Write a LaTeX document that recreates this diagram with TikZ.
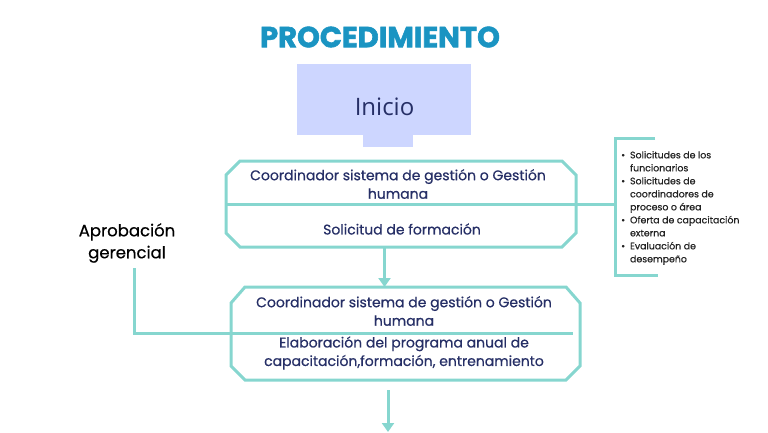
\documentclass[tikz,border=0pt]{standalone}
\usepackage{fontspec}
\setmainfont{Poppins}
\newfontfamily\opensans{Open Sans}
\newfontfamily\popmed[FakeBold=0.6]{Poppins}
\newfontfamily\popheavy[FakeBold=2]{Poppins}
\usetikzlibrary{arrows.meta}
\definecolor{tealline}{HTML}{86D6CF}
\definecolor{navy}{HTML}{262F66}
\definecolor{titleblue}{HTML}{1A94C2}
\definecolor{inifill}{HTML}{CDD6FF}
\definecolor{bullettext}{HTML}{222222}
\begin{document}
\begin{tikzpicture}[x=1pt,y=-1pt,
  boxarea/.style={inner sep=0pt, outer sep=0pt, draw=none},
  boxline/.style={draw=tealline, line width=3pt, line join=miter},
  tline/.style={draw=tealline, line width=3pt},
  arr/.style={draw=tealline, line width=3pt, -{Triangle[width=12pt,length=9pt]}},
  boxtext/.style={text=navy, align=center, inner sep=0pt, font=\popmed\fontsize{14}{18.5}\selectfont},
]
\useasboundingbox (0,0) rectangle (768,432);

% title
\node[text=titleblue, font=\popheavy\fontsize{29}{32}\selectfont\bfseries, inner sep=0pt] (title) at (380,37) {PROCEDIMIENTO};

% inicio
\node[boxarea, fill=inifill, minimum width=174pt, minimum height=71pt] (ini) at (384,99.5) {};
\node[boxarea, fill=inifill, minimum width=50pt, minimum height=13pt] (initab) at (388,140.5) {};
\node[text=navy, font=\opensans\fontsize{24}{28}\selectfont, inner sep=0pt, anchor=base] (initext) at (384.5,115) {Inicio};

% box 1
\node[boxarea, minimum width=350pt, minimum height=86pt] (b1) at (401,204) {};
\draw[boxline] ([xshift=14pt]b1.north west) -- ([xshift=-14pt]b1.north east)
  -- ([yshift=-14pt]b1.north east) -- ([yshift=14pt]b1.south east)
  -- ([xshift=-14pt]b1.south east) -- ([xshift=14pt]b1.south west)
  -- ([yshift=14pt]b1.south west) -- ([yshift=-14pt]b1.north west) -- cycle;
\node[boxtext] (t1a) at (398,184) {Coordinador sistema de gestión o Gestión\\humana};
\node[boxtext] (t1b) at (402,229) {Solicitud de formación};

% box 2
\node[boxarea, minimum width=349pt, minimum height=93pt] (b2) at (405.5,333.5) {};
\draw[boxline] ([xshift=14pt]b2.north west) -- ([xshift=-14pt]b2.north east)
  -- ([yshift=-16pt]b2.north east) -- ([yshift=14pt]b2.south east)
  -- ([xshift=-14pt]b2.south east) -- ([xshift=14pt]b2.south west)
  -- ([yshift=14pt]b2.south west) -- ([yshift=-16pt]b2.north west) -- cycle;
\node[boxtext] (t2a) at (404,311) {Coordinador sistema de gestión o Gestión\\humana};
\node[boxtext] (t2b) at (404,353) {Elaboración del programa anual de\\capacitación,formación, entrenamiento};

% bracket with inputs
\coordinate (brt) at (655,138);
\coordinate (brb) at (658,275);
\coordinate (brm) at (615,204);
\draw[tline] (brt) -- (brt -| brm) -- (brb -| brm) -- (brb);
\draw[tline] (b1.west) -- (brm);
\node[anchor=north west, inner sep=0pt, text=bullettext, font=\popmed\fontsize{9.4}{13}\selectfont] (inputs) at (621,149) {%
  \begin{tabular}{@{}l@{\hspace{5pt}}l@{}}
  \textbullet & Solicitudes de los\\
   & funcionarios\\
  \textbullet & Solicitudes de\\
   & coordinadores de\\
   & proceso o área\\
  \textbullet & Oferta de capacitación\\
   & externa\\
  \textbullet & Evaluación de\\
   & desempeño
  \end{tabular}};

% approval
\node[align=center, inner sep=0pt, font=\popmed\fontsize{16.5}{22}\selectfont] (apr) at (127,243) {Aprobación\\gerencial};
\coordinate (aprline) at (134,268);
\draw[tline] (aprline) |- ([xshift=-7pt]b2.east);

% arrows
\draw[arr] (b1.south -| initext) -- (b2.north -| initext);
\coordinate (end) at (388,432);
\draw[arr] ([yshift=-10pt]b2.south -| end) -- (end);
\end{tikzpicture}
\end{document}
